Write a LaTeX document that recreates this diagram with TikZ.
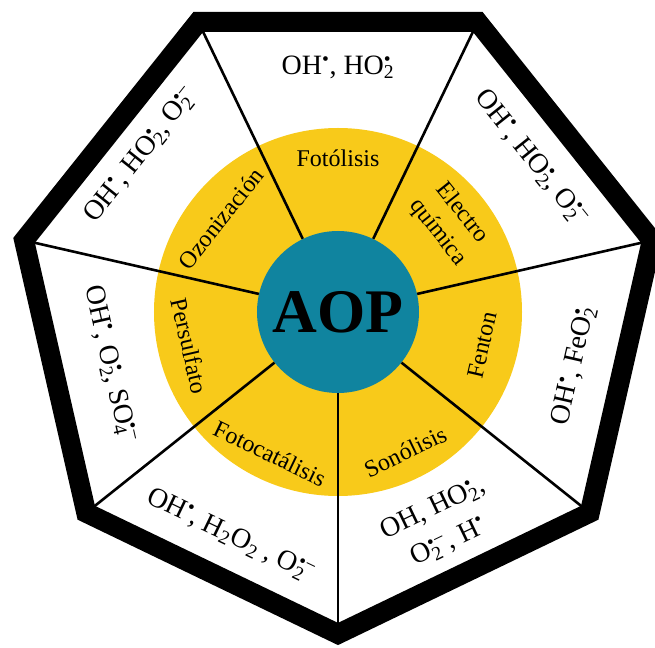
\documentclass[tikz,border=0pt]{standalone}
\usepackage{fontspec}
\setmainfont{Liberation Serif}
\definecolor{sun}{HTML}{F8CA1A}
\definecolor{lagoon}{HTML}{10849F}
% superscript and subscript stacked on the same letter
\newcommand\supsub[2]{\setbox0\hbox{\textsuperscript{#1}}\setbox2\hbox{\textsubscript{#2}}%
  \ifdim\wd0>\wd2 \rlap{\box2}\box0\else\rlap{\box0}\box2\fi}
\newcommand\rad{\textsuperscript{•}}
\begin{document}
\begin{tikzpicture}[x=1pt,y=1pt,
  method/.style={font=\fontsize{24}{31}\selectfont, align=center, inner sep=0pt},
  species/.style={font=\fontsize{28}{37}\selectfont, align=center, inner sep=0pt},
  spoke/.style={line width=2.6pt},
  rim/.style={line width=20pt, line join=miter}]
\useasboundingbox (-338,-335) rectangle (317,312);
\fill[white] (-338,-335) rectangle (317,312);

% yellow ring of methods and the central hub
\node[circle, fill=sun, minimum size=368pt, inner sep=0pt] (disc) at (0,0) {};
\node[circle, fill=lagoon, minimum size=162pt, inner sep=0pt,
      font=\fontsize{62}{62}\selectfont\bfseries] (hub) at (0,0) {AOP};

% heptagon corners and spokes
\foreach \i in {0,...,6}
  \coordinate (v\i) at ({115.714-51.4286*\i}:322);
\foreach \i in {0,...,6}
  \draw[spoke] (hub) -- (v\i);
\draw[rim] (v0) -- (v1) -- (v2) -- (v3) -- (v4) -- (v5) -- (v6) -- cycle;

% method names
\node[method] (m0) at (90:154) {Fotólisis};
\node[method, rotate=-51.43] (m1) at (38.57:143) {Electro\\química};
\node[method, rotate=77.14] (m2) at (-12.86:148) {Fenton};
\node[method, rotate=25.71] (m3) at (-64.29:155) {Sonólisis};
\node[method, rotate=-25.71] (m4) at (-115.71:157) {Fotocatálisis};
\node[method, rotate=-77.14] (m5) at (-167.14:152) {Persulfato};
\node[method, rotate=51.43] (m6) at (141.43:150) {Ozonización};

% reactive species
\node[species] (s0) at (90:245) {OH\rad, HO\supsub{•}{2}};
\node[species, rotate=-51.43] (s1) at (38.57:247) {OH\rad, HO\supsub{•}{2}, O\supsub{•−}{2}};
\node[species, rotate=77.14] (s2) at (-12.86:242) {OH\rad, FeO\supsub{•}{2}};
\node[species, rotate=25.71] (s3) at (-64.29:237) {OH, HO\supsub{•}{2} ,\\O\supsub{•−}{2} , H\rad};
\node[species, rotate=-25.71] (s4) at (-115.71:248) {OH\rad, H\textsubscript{2}O\textsubscript{2} , O\supsub{•−}{2}};
\node[species, rotate=-77.14] (s5) at (-167.14:234) {OH\rad, O\supsub{•}{2}, SO\supsub{•−}{4}};
\node[species, rotate=51.43] (s6) at (141.43:252) {OH\rad, HO\supsub{•}{2}, O\supsub{•−}{2}};
\end{tikzpicture}
\end{document}
